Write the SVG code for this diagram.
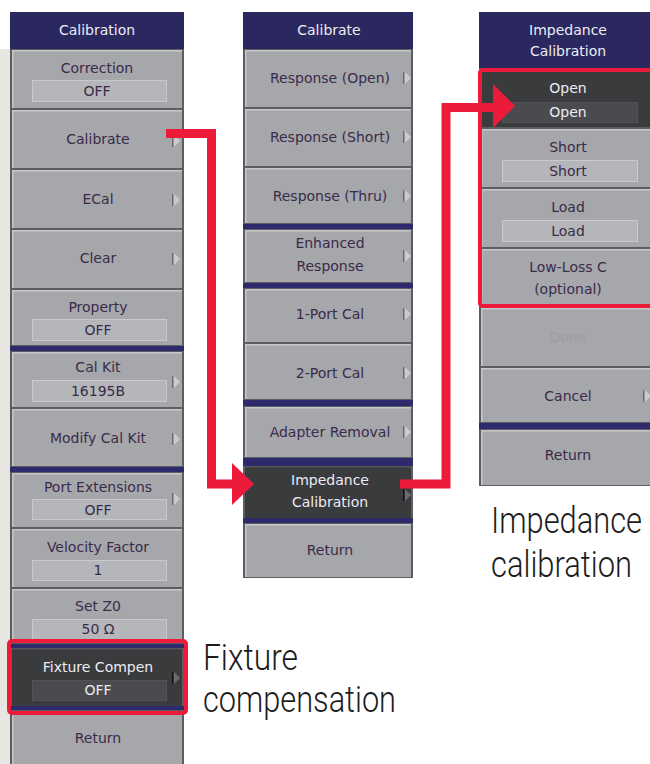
<svg xmlns="http://www.w3.org/2000/svg" xmlns:xlink="http://www.w3.org/1999/xlink" width="650" height="764" viewBox="0 0 650 764">
<style>
.col{fill:#5b5d61}
.face{fill:#a5a7ab}
.dface{fill:#3a3b3d}
.hl{fill:#c6c8cb}
.dhl{fill:#555659}
.box{fill:#b4b6b9;stroke:#c8cacd;stroke-width:1}
.dbox{fill:#4a4b4e;stroke:#525357;stroke-width:1}
.sep{fill:#2e2b6c}
.hdr{fill:#2b285f}
.t{font-family:"DejaVu Sans",sans-serif;font-size:14px;fill:#3a2b4a;text-anchor:middle}
.tw{fill:#ececf4}
.tdis{fill:#9d9da6}
.big{font-family:Roboto,"Liberation Sans",sans-serif;font-weight:300;font-size:30px;fill:#1c1c1c}
.red{fill:none;stroke:#ed1b3a;stroke-width:9;stroke-linejoin:miter}
.redbox{fill:none;stroke:#ed1b3a;stroke-width:4}
.ah{fill:#ed1b3a}
</style>
<defs>
<symbol id="tri" overflow="visible">
<rect x="0" y="0" width="1.2" height="12" fill="#6a6c70"/>
<polygon points="2,0 8,6 2,12" fill="#c9cbce"/>
</symbol>
<symbol id="dtri" overflow="visible">
<rect x="0" y="0" width="1.2" height="12" fill="#111"/>
<polygon points="2,0 8,6 2,12" fill="#6a6b6f"/>
</symbol>
</defs>
<rect x="0" y="0" width="650" height="764" fill="#ffffff"/>
<rect x="0" y="49" width="10" height="715" fill="#e7e6e0"/>

<!-- LEFT COLUMN -->
<g id="left-column">
<rect class="col" x="10" y="49" width="174" height="715"/>
<g id="hdr-calibration"><rect class="hdr" x="10" y="12" width="174" height="37"/><text class="t tw" x="97" y="35">Calibration</text></g>
<g id="btn-correction"><rect class="face" x="12" y="50" width="170" height="58"/><rect class="hl" x="12" y="50" width="170" height="1.5"/><rect class="hl" x="12" y="50" width="1.5" height="58"/><text class="t" x="97" y="73">Correction</text><rect class="box" x="32.5" y="80.5" width="134" height="21"/><text class="t" x="97" y="96">OFF</text></g>
<g id="btn-calibrate"><rect class="face" x="12" y="110" width="170" height="58"/><rect class="hl" x="12" y="110" width="170" height="1.5"/><rect class="hl" x="12" y="110" width="1.5" height="58"/><text class="t" x="98" y="144">Calibrate</text><use xlink:href="#tri" x="172" y="135"/></g>
<g id="btn-ecal"><rect class="face" x="12" y="170" width="170" height="58"/><rect class="hl" x="12" y="170" width="170" height="1.5"/><rect class="hl" x="12" y="170" width="1.5" height="58"/><text class="t" x="98" y="204">ECal</text><use xlink:href="#tri" x="172" y="194"/></g>
<g id="btn-clear"><rect class="face" x="12" y="230" width="170" height="58"/><rect class="hl" x="12" y="230" width="170" height="1.5"/><rect class="hl" x="12" y="230" width="1.5" height="58"/><text class="t" x="98" y="263">Clear</text><use xlink:href="#tri" x="172" y="253"/></g>
<g id="btn-property"><rect class="face" x="12" y="290" width="170" height="55"/><rect class="hl" x="12" y="290" width="170" height="1.5"/><rect class="hl" x="12" y="290" width="1.5" height="55"/><text class="t" x="98" y="312">Property</text><rect class="box" x="32.5" y="319.5" width="134" height="21"/><text class="t" x="98" y="335">OFF</text></g>
<rect class="sep" x="10" y="346" width="174" height="5"/>
<g id="btn-calkit"><rect class="face" x="12" y="352" width="170" height="55"/><rect class="hl" x="12" y="352" width="170" height="1.5"/><rect class="hl" x="12" y="352" width="1.5" height="55"/><text class="t" x="98" y="372">Cal Kit</text><rect class="box" x="32.5" y="380.5" width="134" height="21"/><text class="t" x="98" y="396">16195B</text><use xlink:href="#tri" x="172" y="376"/></g>
<g id="btn-modify-calkit"><rect class="face" x="12" y="409" width="170" height="57"/><rect class="hl" x="12" y="409" width="170" height="1.5"/><rect class="hl" x="12" y="409" width="1.5" height="57"/><text class="t" x="98" y="443">Modify Cal Kit</text><use xlink:href="#tri" x="172" y="433"/></g>
<rect class="sep" x="10" y="467" width="174" height="5"/>
<g id="btn-port-ext"><rect class="face" x="12" y="473" width="170" height="54"/><rect class="hl" x="12" y="473" width="170" height="1.5"/><rect class="hl" x="12" y="473" width="1.5" height="54"/><text class="t" x="98" y="492">Port Extensions</text><rect class="box" x="32.5" y="499.5" width="134" height="20"/><text class="t" x="98" y="515">OFF</text><use xlink:href="#tri" x="172" y="493"/></g>
<g id="btn-velocity"><rect class="face" x="12" y="529" width="170" height="58"/><rect class="hl" x="12" y="529" width="170" height="1.5"/><rect class="hl" x="12" y="529" width="1.5" height="58"/><text class="t" x="98" y="552">Velocity Factor</text><rect class="box" x="32.5" y="560.5" width="134" height="20"/><text class="t" x="98" y="575">1</text></g>
<g id="btn-setz0"><rect class="face" x="12" y="589" width="170" height="54"/><rect class="hl" x="12" y="589" width="170" height="1.5"/><rect class="hl" x="12" y="589" width="1.5" height="54"/><text class="t" x="98" y="611">Set Z0</text><rect class="box" x="32.5" y="619.5" width="134" height="20"/><text class="t" x="98" y="634">50 Ω</text></g>
<rect class="sep" x="10" y="644" width="174" height="4"/>
<g id="btn-fixture"><rect class="dface" x="12" y="648" width="170" height="58"/><rect class="dhl" x="12" y="648" width="170" height="1.5"/><text class="t tw" x="98" y="672">Fixture Compen</text><rect class="dbox" x="32.5" y="680.5" width="134" height="20"/><text class="t tw" x="98" y="695">OFF</text><use xlink:href="#dtri" x="172" y="672"/></g>
<rect class="sep" x="10" y="706" width="174" height="4"/>
<g id="btn-return-left"><rect class="face" x="12" y="711" width="170" height="60"/><rect class="hl" x="12" y="711" width="170" height="1.5"/><rect class="hl" x="12" y="711" width="1.5" height="60"/><text class="t" x="98" y="743">Return</text></g>
</g>

<!-- MIDDLE COLUMN -->
<g id="middle-column">
<rect class="col" x="243" y="49" width="170" height="529"/>
<g id="hdr-calibrate"><rect class="hdr" x="243" y="12" width="170" height="37"/><text class="t tw" x="329" y="35">Calibrate</text></g>
<g id="btn-resp-open"><rect class="face" x="245" y="50" width="166" height="57"/><rect class="hl" x="245" y="50" width="166" height="1.5"/><rect class="hl" x="245" y="50" width="1.5" height="57"/><text class="t" x="330" y="83">Response (Open)</text><use xlink:href="#tri" x="403" y="72"/></g>
<g id="btn-resp-short"><rect class="face" x="245" y="109" width="166" height="57"/><rect class="hl" x="245" y="109" width="166" height="1.5"/><rect class="hl" x="245" y="109" width="1.5" height="57"/><text class="t" x="330" y="142">Response (Short)</text><use xlink:href="#tri" x="403" y="131"/></g>
<g id="btn-resp-thru"><rect class="face" x="245" y="168" width="166" height="55"/><rect class="hl" x="245" y="168" width="166" height="1.5"/><rect class="hl" x="245" y="168" width="1.5" height="55"/><text class="t" x="330" y="201">Response (Thru)</text><use xlink:href="#tri" x="403" y="190"/></g>
<rect class="sep" x="243" y="224" width="170" height="5"/>
<g id="btn-enhanced"><rect class="face" x="245" y="230" width="166" height="52"/><rect class="hl" x="245" y="230" width="166" height="1.5"/><rect class="hl" x="245" y="230" width="1.5" height="52"/><text class="t" x="330" y="248">Enhanced</text><text class="t" x="330" y="271">Response</text><use xlink:href="#tri" x="403" y="250"/></g>
<rect class="sep" x="243" y="283" width="170" height="5"/>
<g id="btn-1port"><rect class="face" x="245" y="289" width="166" height="53"/><rect class="hl" x="245" y="289" width="166" height="1.5"/><rect class="hl" x="245" y="289" width="1.5" height="53"/><text class="t" x="330" y="319">1-Port Cal</text><use xlink:href="#tri" x="403" y="308"/></g>
<g id="btn-2port"><rect class="face" x="245" y="344" width="166" height="55"/><rect class="hl" x="245" y="344" width="166" height="1.5"/><rect class="hl" x="245" y="344" width="1.5" height="55"/><text class="t" x="330" y="378">2-Port Cal</text><use xlink:href="#tri" x="403" y="367"/></g>
<rect class="sep" x="243" y="400" width="170" height="6"/>
<g id="btn-adapter"><rect class="face" x="245" y="407" width="166" height="50"/><rect class="hl" x="245" y="407" width="166" height="1.5"/><rect class="hl" x="245" y="407" width="1.5" height="50"/><text class="t" x="330" y="437">Adapter Removal</text><use xlink:href="#tri" x="403" y="426"/></g>
<rect class="sep" x="243" y="458" width="170" height="8"/>
<g id="btn-impedance"><rect class="dface" x="245" y="466" width="166" height="52"/><rect class="dhl" x="245" y="466" width="166" height="1.5"/><text class="t tw" x="330" y="485">Impedance</text><text class="t tw" x="330" y="507">Calibration</text><use xlink:href="#dtri" x="403" y="489"/></g>
<rect class="sep" x="243" y="518" width="170" height="5"/>
<g id="btn-return-mid"><rect class="face" x="245" y="524" width="166" height="53"/><rect class="hl" x="245" y="524" width="166" height="1.5"/><rect class="hl" x="245" y="524" width="1.5" height="53"/><text class="t" x="330" y="555">Return</text></g>
</g>

<!-- RIGHT COLUMN -->
<g id="right-column">
<rect class="col" x="479" y="68" width="181" height="418"/>
<g id="hdr-impedance"><rect class="hdr" x="479" y="12" width="181" height="56"/><text class="t tw" x="568" y="35">Impedance</text><text class="t tw" x="568" y="56">Calibration</text></g>
<g id="btn-open"><rect class="dface" x="481" y="69" width="179" height="58"/><rect class="dhl" x="481" y="69" width="179" height="1.5"/><text class="t tw" x="568" y="93">Open</text><rect class="dbox" x="502.5" y="102.5" width="135" height="20"/><text class="t tw" x="568" y="117">Open</text></g>
<g id="btn-short"><rect class="face" x="481" y="129" width="179" height="58"/><rect class="hl" x="481" y="129" width="179" height="1.5"/><rect class="hl" x="481" y="129" width="1.5" height="58"/><text class="t" x="568" y="152">Short</text><rect class="box" x="502.5" y="160.5" width="135" height="21"/><text class="t" x="568" y="176">Short</text></g>
<g id="btn-load"><rect class="face" x="481" y="189" width="179" height="58"/><rect class="hl" x="481" y="189" width="179" height="1.5"/><rect class="hl" x="481" y="189" width="1.5" height="58"/><text class="t" x="568" y="212">Load</text><rect class="box" x="502.5" y="220.5" width="135" height="21"/><text class="t" x="568" y="236">Load</text></g>
<g id="btn-lowloss"><rect class="face" x="481" y="249" width="179" height="57"/><rect class="hl" x="481" y="249" width="179" height="1.5"/><rect class="hl" x="481" y="249" width="1.5" height="57"/><text class="t" x="568" y="272">Low-Loss C</text><text class="t" x="568" y="294">(optional)</text></g>
<g id="btn-done"><rect class="face" x="481" y="308" width="179" height="58"/><rect class="hl" x="481" y="308" width="179" height="1.5"/><rect class="hl" x="481" y="308" width="1.5" height="58"/><text class="t tdis" x="568" y="342">Done</text></g>
<g id="btn-cancel"><rect class="face" x="481" y="368" width="179" height="54"/><rect class="hl" x="481" y="368" width="179" height="1.5"/><rect class="hl" x="481" y="368" width="1.5" height="54"/><text class="t" x="568" y="401">Cancel</text><use xlink:href="#tri" x="643" y="390"/></g>
<rect class="sep" x="479" y="423" width="181" height="6"/>
<g id="btn-return-right"><rect class="face" x="481" y="430" width="179" height="55"/><rect class="hl" x="481" y="430" width="179" height="1.5"/><rect class="hl" x="481" y="430" width="1.5" height="55"/><text class="t" x="568" y="460">Return</text></g>
</g>

<!-- HIGHLIGHT BOXES -->
<g id="highlight-fixture"><rect class="redbox" x="9" y="641" width="177" height="72" rx="3"/></g>
<g id="highlight-impedance"><rect class="redbox" x="480" y="70" width="185" height="236" rx="3"/></g>

<!-- CONNECTORS -->
<g id="connectors">
<path class="red" d="M166,133.5 H211.5 V484 H233"/>
<polygon class="ah" points="232,463 254,484 232,505"/>
<path class="red" d="M400,484 H446 V107.5 H494"/>
<polygon class="ah" points="493,84 515,106 493,128"/>
</g>

<!-- CAPTIONS -->
<g id="caption-fixture">
<text class="big" transform="translate(203,670) scale(1,1.2)" x="0" y="0" textLength="95" lengthAdjust="spacingAndGlyphs">Fixture</text>
<text class="big" transform="translate(203,712) scale(1,1.2)" x="0" y="0" textLength="193" lengthAdjust="spacingAndGlyphs">compensation</text>
</g>
<g id="caption-impedance">
<text class="big" transform="translate(491,533) scale(1,1.2)" x="0" y="0" textLength="151" lengthAdjust="spacingAndGlyphs">Impedance</text>
<text class="big" transform="translate(491,577) scale(1,1.2)" x="0" y="0" textLength="141" lengthAdjust="spacingAndGlyphs">calibration</text>
</g>
</svg>
